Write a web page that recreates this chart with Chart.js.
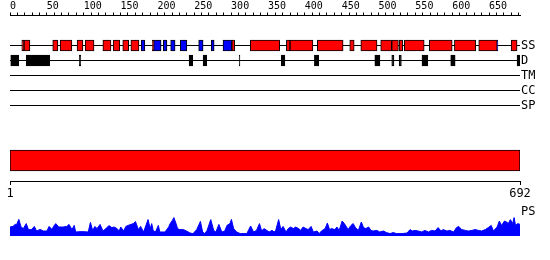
<!DOCTYPE html>
<html>
<head>
<meta charset="utf-8">
<script src="https://cdn.jsdelivr.net/npm/chart.js@4/dist/chart.umd.min.js"></script>
<style>
  body { margin: 0; background: #fff; }
  #wrap { position: relative; width: 550px; height: 260px; }
  canvas { position: absolute; left: 0; }
</style>
</head>
<body>
<div id="wrap">
  <canvas id="tracks" width="550" height="132" style="top:0"></canvas>
  <canvas id="fullbar" width="550" height="70" style="top:140px"></canvas>
  <canvas id="ps" width="550" height="56" style="top:200px"></canvas>
</div>
<script>
// sequence + axis
var seqLength = 692;
var axisLabels = [0, 50, 100, 150, 200, 250, 300, 350, 400, 450, 500, 550, 600, 650];
var axisMinorStep = 10;
var endTicks = [1, 692];
var trackNames = ['SS', 'D', 'TM', 'CC', 'SP'];

// secondary structure (residue ranges)
var helices = [[16,19],[19,27],[58,65],[68,84],[91,99],[102,114],[126,137],[140,149],[153,161],[164,175],
  [193,195],[301,305],[326,366],[375,380],[380,411],[417,452],[461,467],[476,498],[503,518],[518,527],
  [528,533],[535,562],[569,600],[603,632],[636,661],[680,688]];
var strands = [[178,183],[195,205],[208,213],[218,224],[231,240],[256,262],[273,277],[289,301],[661,662]];
// disordered regions
var disorder = [[1,12],[22,54],[94,96],[243,248],[262,267],[311,312],[368,373],[413,419],[495,502],
  [518,521],[528,531],[559,567],[598,604],[688,692]];
// whole-chain bar
var chainBar = [1, 692];

// PS profile (residue, score)
var psPos = [1,5,8,10,13,16,19,23,26,30,34,37,42,46,51,54,58,60,63,67,71,73,78,81,85,88,90,98,107,110,
  113,116,119,123,127,131,135,139,142,146,149,151,155,158,161,165,168,171,175,178,182,188,191,193,195,198,
  202,204,211,216,218,221,223,226,228,231,236,240,245,249,254,259,262,265,268,273,277,280,284,288,292,295,
  299,301,304,308,313,322,324,327,331,335,339,342,345,349,352,356,359,361,365,368,371,375,378,381,385,388,
  392,395,398,402,405,409,412,417,420,423,428,431,434,437,441,444,447,451,454,457,459,463,466,469,473,477,
  480,483,487,490,493,498,502,507,511,516,520,525,532,539,543,546,550,554,559,563,568,572,577,581,585,588,
  593,597,602,606,609,613,618,622,627,631,636,640,645,649,653,656,661,664,667,671,674,676,679,682,684,686,
  689,692];
var psVal = [.45,.48,.58,.58,.83,.45,.37,.62,.32,.32,.48,.25,.33,.25,.25,.48,.32,.48,.62,.45,.45,.45,.48,.58,
  .32,.53,.2,.22,.2,.68,.28,.48,.37,.58,.25,.37,.52,.42,.45,.37,.25,.45,.25,.48,.53,.58,.62,.72,.32,.48,.2,
  .82,.37,.62,.28,.2,.53,.2,.2,.45,.62,.78,.92,.62,.37,.32,.32,.25,.15,.12,.32,.73,.2,.12,.28,.82,.28,.2,.58,
  .2,.25,.53,.62,.83,.37,.2,.12,.12,.28,.5,.2,.28,.62,.25,.37,.28,.2,.28,.2,.28,.82,.32,.48,.2,.37,.45,.37,
  .45,.37,.28,.45,.37,.32,.48,.2,.25,.12,.25,.37,.65,.32,.37,.32,.45,.28,.75,.62,.45,.32,.53,.62,.42,.28,.7,
  .42,.37,.45,.28,.25,.28,.2,.25,.17,.12,.17,.12,.12,.15,.32,.25,.28,.25,.2,.28,.2,.28,.25,.42,.25,.32,.25,
  .28,.2,.42,.48,.32,.28,.25,.28,.32,.28,.25,.32,.42,.53,.25,.45,.75,.53,.75,.7,.62,.82,.62,.92,.53,.62,.58];

Chart.defaults.font.family = 'DejaVu Sans Mono';
Chart.defaults.color = '#000';
Chart.defaults.animation = false;

var labelFont = { family: 'DejaVu Sans Mono', size: 12 };
var noPlugins = { legend: { display: false }, tooltip: { enabled: false } };

function rangeBars(list, row) {
  return list.map(function (r) { return { x: r, y: row }; });
}
function rowLine(row) {
  return {
    type: 'line', indexAxis: 'x', order: 2,
    data: [{ x: 0, y: row }, { x: seqLength, y: row }],
    borderColor: '#000', borderWidth: 1, pointRadius: 0
  };
}
function boxSet(list, row, color) {
  return {
    order: 1, data: rangeBars(list, row),
    backgroundColor: color, borderColor: '#000', borderWidth: 1,
    borderSkipped: false, barThickness: 11, grouped: false
  };
}

var lines = trackNames.map(function (n, i) { return rowLine(i + 1); });

new Chart(document.getElementById('tracks'), {
  type: 'bar',
  data: {
    datasets: lines.concat([
      boxSet(helices, 1, '#ff0000'),
      boxSet(strands, 1, '#0000ff'),
      boxSet(disorder, 2, '#000000')
    ])
  },
  options: {
    indexAxis: 'y',
    responsive: false,
    layout: { padding: { left: 10, right: 0, top: 0.5, bottom: 11.5 } },
    plugins: noPlugins,
    scales: {
      x: {
        type: 'linear', position: 'top', min: 0, max: seqLength,
        afterBuildTicks: function (s) {
          var t = [];
          for (var v = 0; v < seqLength; v += axisMinorStep) t.push({ value: v });
          s.ticks = t;
        },
        afterFit: function (s) { s.height = 15; },
        grid: { drawOnChartArea: false, tickLength: 3, color: '#000', lineWidth: 1 },
        border: { color: '#000', width: 1 },
        ticks: {
          align: 'start', autoSkip: false, maxRotation: 0, padding: 0,
          font: { family: 'DejaVu Sans Mono', size: 10 },
          callback: function (v) { return axisLabels.indexOf(v) >= 0 ? String(v) : ''; }
        }
      },
      y: {
        type: 'linear', position: 'right', reverse: true, min: -1, max: 6, offset: false,
        afterBuildTicks: function (s) {
          s.ticks = trackNames.map(function (n, i) { return { value: i + 1 }; });
        },
        afterFit: function (s) { s.width = 30; },
        grid: { display: false, drawTicks: false },
        border: { display: false },
        ticks: {
          padding: 1, font: labelFont,
          callback: function (v) { return trackNames[v - 1]; }
        }
      }
    }
  }
});

new Chart(document.getElementById('fullbar'), {
  type: 'bar',
  data: {
    labels: [''],
    datasets: [{
      data: [chainBar], backgroundColor: '#ff0000', borderColor: '#000',
      borderWidth: 1, borderSkipped: false, barThickness: 21
    }]
  },
  options: {
    indexAxis: 'y',
    responsive: false,
    layout: { padding: { left: 10, right: 30, top: 0, bottom: 0 } },
    plugins: noPlugins,
    scales: {
      x: {
        type: 'linear', position: 'bottom', min: 1, max: seqLength,
        afterBuildTicks: function (s) {
          s.ticks = endTicks.map(function (v) { return { value: v }; });
        },
        afterFit: function (s) { s.height = 29; },
        grid: { drawOnChartArea: false, tickLength: 4, color: '#000' },
        border: { color: '#000' },
        ticks: { autoSkip: false, maxRotation: 0, padding: 2, font: labelFont }
      },
      y: { display: false }
    }
  }
});

new Chart(document.getElementById('ps'), {
  type: 'line',
  data: {
    datasets: [{
      data: psPos.map(function (p, i) { return { x: p, y: psVal[i] }; }),
      borderColor: '#0000ff', backgroundColor: '#0000ff', fill: 'origin',
      borderWidth: 1, pointRadius: 0, tension: 0
    }]
  },
  options: {
    responsive: false,
    layout: { padding: { left: 10, right: 0, top: 12, bottom: 20 } },
    plugins: noPlugins,
    scales: {
      x: { type: 'linear', min: 1, max: seqLength, display: false },
      y: {
        position: 'right', min: 0, max: 1.2,
        afterBuildTicks: function (s) { s.ticks = [{ value: 1.2 }]; },
        afterFit: function (s) { s.width = 30; },
        grid: { display: false, drawTicks: false },
        border: { display: false },
        ticks: { padding: 1, font: labelFont, callback: function () { return 'PS'; } }
      }
    }
  }
});
</script>
</body>
</html>
